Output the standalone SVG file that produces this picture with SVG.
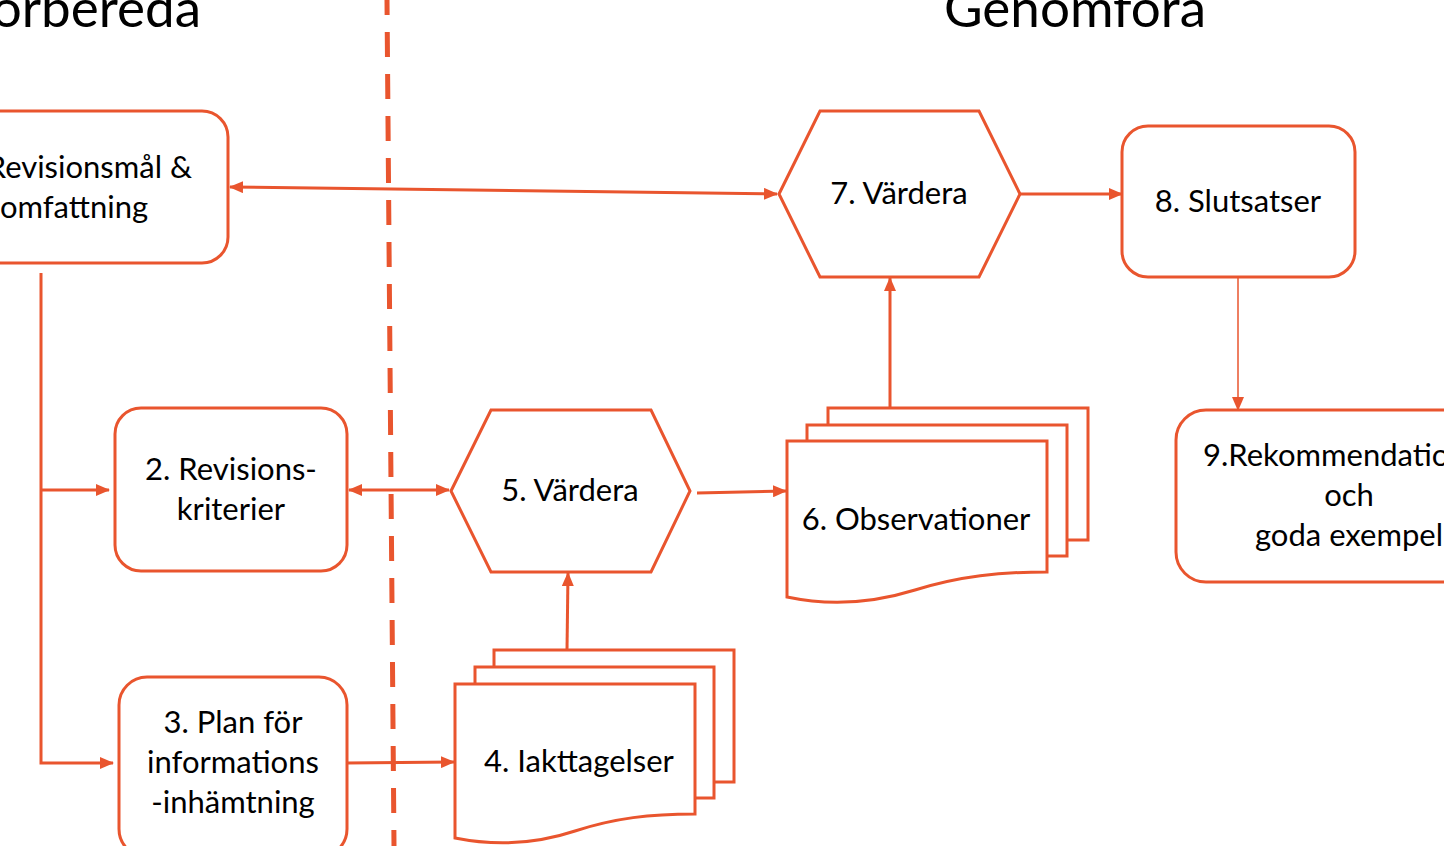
<svg xmlns="http://www.w3.org/2000/svg" width="1444" height="846" viewBox="0 0 1444 846">
<style>
.box{fill:#fff;stroke:#E9552E;stroke-width:3}
.c{fill:none;stroke:#E9552E;stroke-width:3}
.thin{fill:none;stroke:#E9552E;stroke-width:1.5}
.t{font-family:Lato,"Open Sans",sans-serif;font-size:31px;fill:#000}
.m{text-anchor:middle}
.title{font-family:Lato,"Open Sans",sans-serif;font-size:53px;fill:#000}
</style>
<defs>
<marker id="ah" markerUnits="userSpaceOnUse" markerWidth="14" markerHeight="12" refX="13" refY="6" orient="auto-start-reverse">
<path d="M0,0 L14,6 L0,12 Z" fill="#E9552E"/>
</marker>
</defs>
<rect width="1444" height="846" fill="#fff"/>
<text class="title" x="201" y="27" text-anchor="end">örbereda</text>
<text class="title m" x="1075" y="27">Genomföra</text>
<line x1="387" y1="0" x2="394" y2="846" stroke="#E9552E" stroke-width="5" stroke-dasharray="25 17" stroke-dashoffset="10"/>

<g id="connectors">
<line class="c" x1="230" y1="187" x2="777" y2="194" marker-start="url(#ah)" marker-end="url(#ah)"/>
<line class="c" x1="1020" y1="194" x2="1122" y2="194" marker-end="url(#ah)"/>
<line class="thin" x1="1238" y1="277" x2="1238" y2="410" marker-end="url(#ah)"/>
<polyline class="c" points="41,273 41,763 113,763" marker-end="url(#ah)"/>
<line class="c" x1="41" y1="490" x2="109" y2="490" marker-end="url(#ah)"/>
<line class="c" x1="349" y1="490" x2="449" y2="490" marker-start="url(#ah)" marker-end="url(#ah)"/>
<line class="c" x1="697" y1="493" x2="786" y2="491" marker-end="url(#ah)"/>
<line class="c" x1="890" y1="408" x2="890" y2="278" marker-end="url(#ah)"/>
<line class="c" x1="567" y1="650" x2="568" y2="573" marker-end="url(#ah)"/>
<line class="c" x1="347" y1="763" x2="454" y2="762" marker-end="url(#ah)"/>
</g>

<g id="n1">
<rect class="box" x="-60" y="111" width="288" height="152" rx="26"/>
<text class="t" x="192" y="178" text-anchor="end">Revisionsmål &amp;</text>
<text class="t" x="0" y="218">omfattning</text>
</g>

<g id="n2">
<rect class="box" x="115" y="408" width="232" height="163" rx="26"/>
<text class="t m" x="231" y="480">2. Revisions-</text>
<text class="t m" x="231" y="520">kriterier</text>
</g>

<g id="n3">
<rect class="box" x="119" y="677" width="228" height="180" rx="28"/>
<text class="t m" x="233" y="733">3. Plan för</text>
<text class="t m" x="233" y="773">informations</text>
<text class="t m" x="233" y="813">-inhämtning</text>
</g>

<g id="n4">
<rect class="box" x="494" y="650" width="240" height="132"/>
<rect class="box" x="475" y="667" width="239" height="131"/>
<path class="box" d="M455,684 H695 V814 C650,814 615,818 575,831 C530,846 490,845 455,838 Z"/>
<text class="t m" x="579" y="772">4. Iakttagelser</text>
</g>

<g id="n5">
<polygon class="box" points="451,491 491,410 651,410 690,491 651,572 491,572"/>
<text class="t m" x="570" y="501">5. Värdera</text>
</g>

<g id="n6">
<rect class="box" x="828" y="408" width="260" height="132"/>
<rect class="box" x="807" y="425" width="260" height="131"/>
<path class="box" d="M787,441 H1047 V572 C1000,572 960,576 915,590 C870,604 825,605 787,597 Z"/>
<text class="t m" x="916" y="530">6. Observationer</text>
</g>

<g id="n7">
<polygon class="box" points="779,194 820,111 979,111 1020,194 979,277 820,277"/>
<text class="t m" x="899" y="204">7. Värdera</text>
</g>

<g id="n8">
<rect class="box" x="1122" y="126" width="233" height="151" rx="26"/>
<text class="t m" x="1238" y="212">8. Slutsatser</text>
</g>

<g id="n9">
<rect class="box" x="1176" y="410" width="360" height="172" rx="30"/>
<text class="t" x="1203" y="466">9.Rekommendatio</text>
<text class="t m" x="1349" y="506">och</text>
<text class="t m" x="1349" y="546">goda exempel</text>
</g>
</svg>
